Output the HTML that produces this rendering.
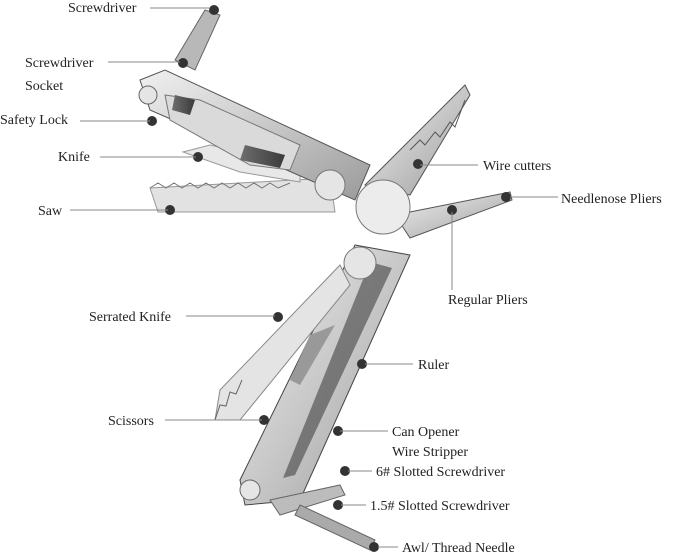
<!DOCTYPE html>
<html><head><meta charset="utf-8"><style>
html,body{margin:0;padding:0;background:#fff;}
svg{display:block}
text{font-family:"Liberation Serif",serif;font-size:14px;fill:#222}
.l{stroke:#888;stroke-width:1}
</style></head><body>
<svg width="679" height="556" viewBox="0 0 679 556">
<defs>
<linearGradient id="m" x1="0" y1="0" x2="1" y2="1"><stop offset="0" stop-color="#f0f0f0"/><stop offset=".5" stop-color="#c8c8c8"/><stop offset="1" stop-color="#9a9a9a"/></linearGradient>
<linearGradient id="d" x1="0" y1="0" x2="1" y2="0"><stop offset="0" stop-color="#6e6e6e"/><stop offset="1" stop-color="#3a3a3a"/></linearGradient>
</defs>
<polygon points="150,188 330,178 335,212 158,212" fill="#e2e2e2" stroke="#999"/>
<polyline points="150,188 158,183 166,188 174,183 182,188 190,183 198,188 206,183 214,188 222,183 230,188 238,183 246,188 254,183 262,188 270,183 278,188 290,183" fill="none" stroke="#777"/>
<polygon points="183,152 210,145 300,165 300,182 240,172" fill="#e8e8e8" stroke="#999"/>
<polygon points="175,60 205,10 220,15 195,70" fill="#b8b8b8" stroke="#666"/>
<polygon points="140,80 165,70 370,165 355,200 150,110" fill="url(#m)" stroke="#555"/>
<polygon points="165,95 200,100 300,145 290,170 250,165 170,120" fill="#dadada" stroke="#777"/>
<polygon points="245,145 285,155 280,168 240,160" fill="url(#d)"/>
<polygon points="175,95 195,100 190,115 172,110" fill="url(#d)"/>
<circle cx="148" cy="95" r="9" fill="#e5e5e5" stroke="#666"/>
<circle cx="330" cy="185" r="15" fill="#e5e5e5" stroke="#777"/>
<polygon points="365,185 465,85 470,95 410,195" fill="url(#m)" stroke="#555"/>
<polyline points="410,150 420,140 425,145 435,132 440,137 450,122 455,127 465,100" fill="none" stroke="#555"/>
<polygon points="395,215 510,192 512,200 410,238" fill="url(#m)" stroke="#555"/>
<circle cx="383" cy="207" r="27" fill="#ececec" stroke="#777"/>
<polygon points="355,245 410,255 300,500 245,505 240,480" fill="url(#m)" stroke="#444"/>
<polygon points="370,262 392,268 295,475 283,478" fill="#555" opacity=".7"/>
<polygon points="310,335 335,325 300,385 290,380" fill="#999"/>
<circle cx="360" cy="263" r="16" fill="#e5e5e5" stroke="#777"/>
<circle cx="250" cy="490" r="10" fill="#e5e5e5" stroke="#666"/>
<polygon points="340,265 350,285 240,420 215,420 220,390" fill="#e4e4e4" stroke="#888"/>
<polyline points="215,420 220,405 226,406 230,392 236,394 242,380" fill="none" stroke="#666"/>
<polygon points="270,500 340,485 345,495 280,515" fill="#bcbcbc" stroke="#666"/>
<polygon points="300,505 375,540 370,550 295,515" fill="#aaa" stroke="#666"/>
<g fill="#333">
<circle cx="214" cy="10" r="5"/><circle cx="183" cy="63" r="5"/><circle cx="152" cy="121" r="5"/>
<circle cx="198" cy="157" r="5"/><circle cx="170" cy="210" r="5"/><circle cx="418" cy="164" r="5"/>
<circle cx="506" cy="197" r="5"/><circle cx="452" cy="210" r="5"/><circle cx="278" cy="317" r="5"/>
<circle cx="362" cy="364" r="5"/><circle cx="264" cy="420" r="5"/><circle cx="338" cy="431" r="5"/>
<circle cx="345" cy="471" r="5"/><circle cx="338" cy="505" r="5"/><circle cx="374" cy="547" r="5"/>
</g>
<g class="l">
<line x1="150" y1="8" x2="210" y2="8"/><line x1="108" y1="62" x2="180" y2="62"/>
<line x1="80" y1="121" x2="150" y2="121"/><line x1="100" y1="157" x2="196" y2="157"/>
<line x1="70" y1="210" x2="168" y2="210"/><line x1="420" y1="165" x2="478" y2="165"/>
<line x1="510" y1="197" x2="558" y2="197"/><line x1="452" y1="212" x2="452" y2="290"/>
<line x1="186" y1="316" x2="275" y2="316"/><line x1="365" y1="364" x2="413" y2="364"/>
<line x1="165" y1="420" x2="262" y2="420"/><line x1="340" y1="431" x2="388" y2="431"/>
<line x1="348" y1="471" x2="372" y2="471"/><line x1="341" y1="505" x2="366" y2="505"/>
<line x1="378" y1="547" x2="398" y2="547"/>
</g>
<text x="68" y="12">Screwdriver</text>
<text x="25" y="67">Screwdriver</text><text x="25" y="90">Socket</text>
<text x="0" y="124">Safety Lock</text>
<text x="58" y="161">Knife</text>
<text x="38" y="215">Saw</text>
<text x="483" y="170">Wire cutters</text>
<text x="561" y="203">Needlenose Pliers</text>
<text x="448" y="304">Regular Pliers</text>
<text x="89" y="321">Serrated Knife</text>
<text x="418" y="369">Ruler</text>
<text x="108" y="425">Scissors</text>
<text x="392" y="436">Can Opener</text>
<text x="392" y="456">Wire Stripper</text>
<text x="376" y="476">6# Slotted Screwdriver</text>
<text x="370" y="510">1.5# Slotted Screwdriver</text>
<text x="402" y="552">Awl/ Thread Needle</text>
</svg>
</body></html>
